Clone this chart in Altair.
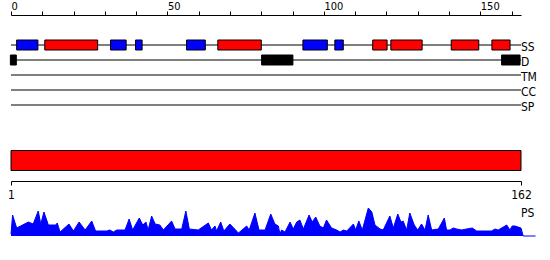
import altair as alt
import pandas as pd

# ---------------- data ----------------
SEQ_LEN = 162
tracks = ["SS", "D", "TM", "CC", "SP"]
track_start = 0
track_end = 163
top_ticks = list(range(0, 161, 10))
bottom_ticks = [1, 162]

# secondary structure elements (E = blue, H = red)
ss_start = [1.8, 10.8, 31.8, 39.8, 56.1, 66.1, 93.3, 103.5, 115.6, 121.4, 140.7, 153.7]
ss_end = [8.6, 27.7, 36.8, 41.9, 62.1, 80.0, 101.1, 106.2, 120.2, 131.4, 149.5, 159.5]
ss_type = ["E", "H", "E", "E", "E", "H", "E", "E", "H", "H", "H", "H"]

# disordered regions
d_start = [-0.2, 80.1, 156.8]
d_end = [1.7, 90.1, 162.7]

# PS profile
ps_pos = [1.0, 1.5, 2.8, 6.5, 8.0, 9.6, 10.4, 11.4, 12.8, 15.2, 15.6, 16.5, 19.3, 20.7,
          22.5, 24.4, 26.5, 27.7, 31.2, 32.2, 33.3, 34.4, 37.0, 38.3, 39.4, 41.5, 42.6,
          43.6, 44.3, 45.4, 46.5, 48.0, 49.1, 51.7, 52.8, 54.9, 56.2, 57.3, 60.1, 63.3,
          64.3, 65.4, 65.9, 67.2, 68.2, 70.1, 72.8, 75.4, 76.2, 78.0, 79.3, 81.2, 83.0,
          84.3, 85.4, 85.9, 86.4, 87.5, 89.1, 90.1, 91.2, 92.2, 93.3, 95.1, 96.1, 97.2,
          98.5, 99.6, 100.6, 102.2, 103.8, 104.9, 105.9, 107.0, 109.1, 109.8, 110.8,
          111.9, 113.8, 114.9, 115.9, 117.5, 118.5, 120.6, 121.7, 123.1, 124.1, 124.8,
          125.9, 126.9, 128.3, 129.4, 130.6, 131.7, 132.7, 133.8, 135.9, 137.8, 138.5,
          139.6, 140.6, 141.7, 143.3, 144.8, 146.6, 148.0, 152.7, 153.8, 154.8, 157.5,
          158.5, 159.2, 160.1, 162.0, 162.7, 166.6]
ps_val = [2, 21, 8, 14, 12, 25, 12, 24, 11, 11, 13, 4, 12, 5,
          14, 6, 15, 5, 5, 6, 4, 6, 6, 17, 6, 18, 11,
          14, 6, 20, 12, 11, 6, 15, 7, 7, 25, 7, 6, 13,
          6, 10, 5, 14, 5, 12, 3, 10, 6, 23, 6, 6, 22,
          12, 10, 2, 6, 4, 14, 7, 14, 16, 7, 21, 14, 19,
          10, 8, 16, 8, 6, 4, 6, 5, 12, 6, 15,
          6, 28, 24, 11, 7, 6, 20, 8, 22, 14, 15,
          6, 23, 11, 6, 12, 6, 21, 6, 7, 18, 6,
          6, 8, 7, 6, 7, 8, 5, 5, 7, 6, 11,
          6, 10, 10, 8, 0, 0]
PS_MAX = 28

FONT = "DejaVu Sans Condensed, DejaVu Sans, sans-serif"

# ---------------- scales ----------------
top_x = alt.Scale(domain=[track_start, track_end], range=[0, 510], zero=False, nice=False)
track_y = alt.Scale(type="point", domain=tracks, range=[30, 90], padding=0)
bot_x = alt.Scale(domain=[1, SEQ_LEN], range=[0, 510], zero=False, nice=False)

# ---------------- tracks ----------------
lines_df = pd.DataFrame({"track": tracks, "start": [track_start] * len(tracks),
                         "end": [track_end] * len(tracks)})
ss_df = pd.DataFrame({"track": "SS", "start": ss_start, "end": ss_end, "type": ss_type})
d_df = pd.DataFrame({"track": "D", "start": d_start, "end": d_end})

top_axis = alt.Axis(orient="top", values=top_ticks,
                    labelExpr="datum.value % 50 == 0 ? datum.label : ''",
                    tickSize=4, labelPadding=0, labelAlign="left", labelFlush=False,
                    labelOverlap=False, grid=False, domainColor="black", tickColor="black",
                    labelColor="black", labelFont=FONT, labelFontSize=11, title=None)

lines = alt.Chart(lines_df).mark_rule(color="black", strokeWidth=1).encode(
    x=alt.X("start:Q", scale=top_x, axis=top_axis),
    x2="end:Q",
    y=alt.Y("track:N", scale=track_y, axis=None),
)
ss = alt.Chart(ss_df).mark_bar(size=10, stroke="black", strokeWidth=1, opacity=1).encode(
    x=alt.X("start:Q", scale=top_x, axis=top_axis),
    x2="end:Q",
    y=alt.Y("track:N", scale=track_y, axis=None),
    fill=alt.Fill("type:N", scale=alt.Scale(domain=["E", "H"], range=["#0000ff", "#ff0000"]),
                  legend=None),
)
dis = alt.Chart(d_df).mark_bar(size=10, fill="black", stroke="black", strokeWidth=1,
                               opacity=1).encode(
    x=alt.X("start:Q", scale=top_x, axis=top_axis),
    x2="end:Q",
    y=alt.Y("track:N", scale=track_y, axis=None),
)
labels = alt.Chart(lines_df).mark_text(align="left", baseline="middle", dy=2, font=FONT,
                                       fontSize=12, color="black").encode(
    x=alt.X("end:Q", scale=top_x, axis=top_axis),
    y=alt.Y("track:N", scale=track_y, axis=None),
    text="track:N",
)
tracks_layer = alt.layer(lines, ss, dis, labels)

# ---------------- sequence bar ----------------
bar_df = pd.DataFrame({"row": ["seq"], "start": [1], "end": [SEQ_LEN]})
bar = alt.Chart(bar_df).mark_rect(fill="#ff0000", stroke="black", strokeWidth=1,
                                  opacity=1).encode(
    x=alt.X("start:Q", scale=bot_x,
            axis=alt.Axis(orient="bottom", values=bottom_ticks, offset=-55, tickSize=4,
                          labelPadding=4, labelFlush=False, labelOverlap=False, grid=False,
                          domainColor="black", tickColor="black", labelColor="black",
                          labelFont=FONT, labelFontSize=12, title=None)),
    x2="end:Q",
    y=alt.Y("row:N", scale=alt.Scale(type="band", domain=["seq"], range=[135.5, 155.5],
                                     paddingInner=0, paddingOuter=0), axis=None),
)

# ---------------- PS profile ----------------
ps_df = pd.DataFrame({"pos": ps_pos, "val": ps_val})
ps_y = alt.Scale(domain=[0, PS_MAX], range=[221, 193], nice=False)
ps = alt.Chart(ps_df).mark_area(color="#0000ff", fill="#0000ff", opacity=1, fillOpacity=1,
                                interpolate="linear",
                                line={"color": "#0000ff", "strokeWidth": 1}).encode(
    x=alt.X("pos:Q", scale=bot_x, axis=None),
    y=alt.Y("val:Q", scale=ps_y, axis=None),
)
ps_label = alt.Chart(pd.DataFrame({"t": ["PS"]})).mark_text(
    align="left", baseline="top", font=FONT, fontSize=12, color="black").encode(
    x=alt.datum(SEQ_LEN, scale=bot_x, axis=None),
    y=alt.datum(PS_MAX, scale=ps_y, axis=None),
    text="t:N",
)
ps_layer = alt.layer(ps, ps_label)

chart = alt.layer(tracks_layer, bar, ps_layer).resolve_scale(
    x="independent", y="independent", fill="independent"
).properties(
    width=510, height=221,
    padding={"left": 11, "top": 15, "right": 29, "bottom": 24},
    autosize=alt.AutoSizeParams(type="none"),
).configure_view(stroke=None)

chart.save("out.html", embed_options={"renderer": "svg", "actions": False})
